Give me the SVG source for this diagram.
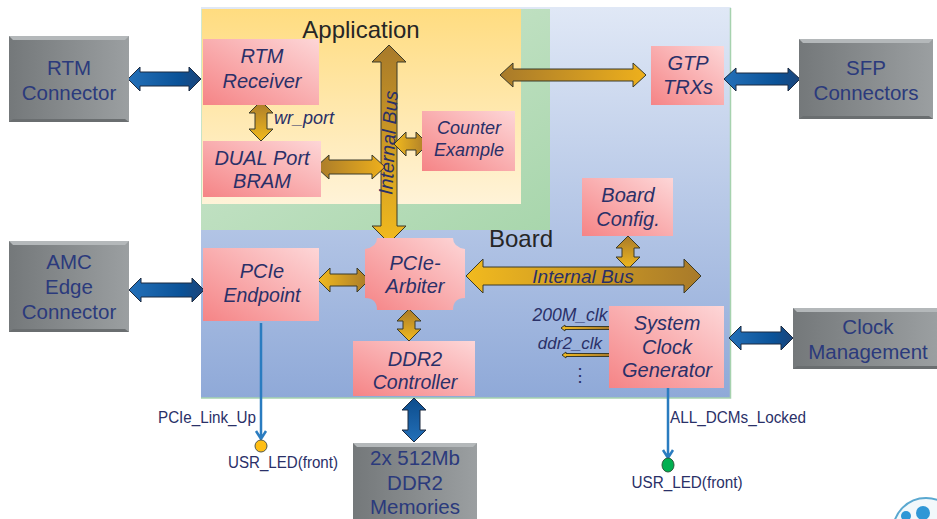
<svg xmlns="http://www.w3.org/2000/svg" width="937" height="519" viewBox="0 0 937 519">
<style>
text{font-family:"Liberation Sans",Arial,sans-serif;fill:#2a3068;text-anchor:middle}
.b{font-size:20px;font-style:italic}
.g{font-size:20.5px;fill:#2b3a7c}
.t{font-size:24px;fill:#262626}
.s{font-size:18px;font-style:italic}
.l{font-size:16px}
.blk{fill:url(#pink)}
.gh{fill:url(#goldH);stroke:#3a3a2a;stroke-width:1}
.gr{fill:url(#goldR);stroke:#3a3a2a;stroke-width:1}
.gv{fill:url(#goldV);stroke:#3a3a2a;stroke-width:1}
.bh{fill:url(#blueH);stroke:#1c2a40;stroke-width:1}
.bv{fill:url(#blueV);stroke:#1c2a40;stroke-width:1}
.sig{stroke:#2a7cc0;stroke-width:2.5;fill:none}
.top{fill:#b4b8ba}.bot{fill:#6a6e70}
.gb{fill:url(#gray)}
</style>
<defs>
<linearGradient id="pink" x1="0" y1="1" x2="1" y2="0"><stop offset="0" stop-color="#f58486"/><stop offset="1" stop-color="#fdd6d7"/></linearGradient>
<linearGradient id="blue" x1="0" y1="0" x2="0" y2="1"><stop offset="0" stop-color="#e0e8f6"/><stop offset="1" stop-color="#8fa9d8"/></linearGradient>
<linearGradient id="yellow" x1="0" y1="0" x2="0" y2="1"><stop offset="0" stop-color="#ffdc80"/><stop offset="1" stop-color="#fff3d8"/></linearGradient>
<linearGradient id="green" x1="0" y1="0" x2="1" y2="1"><stop offset="0" stop-color="#d2e8d2"/><stop offset="1" stop-color="#a8d6ac"/></linearGradient>
<linearGradient id="gray" x1="0" y1="0" x2="1" y2="0"><stop offset="0" stop-color="#74787a"/><stop offset="1" stop-color="#9b9fa1"/></linearGradient>
<linearGradient id="goldH" x1="0" y1="0" x2="1" y2="0"><stop offset="0" stop-color="#f2ba1e"/><stop offset="1" stop-color="#a87a2a"/></linearGradient>
<linearGradient id="goldR" x1="0" y1="0" x2="1" y2="0"><stop offset="0" stop-color="#a87a2a"/><stop offset="1" stop-color="#eeb01c"/></linearGradient>
<linearGradient id="goldV" x1="0" y1="1" x2="0" y2="0"><stop offset="0" stop-color="#f2ba1e"/><stop offset="1" stop-color="#a87a2a"/></linearGradient>
<linearGradient id="blueH" x1="0" y1="0" x2="1" y2="0"><stop offset="0" stop-color="#2470b8"/><stop offset="0.7" stop-color="#0a5298"/><stop offset="1" stop-color="#1c4478"/></linearGradient>
<linearGradient id="blueV" x1="0" y1="1" x2="0" y2="0"><stop offset="0" stop-color="#2470b8"/><stop offset="1" stop-color="#0c4c8c"/></linearGradient>
</defs>

<g id="board-area">
<rect x="201" y="7" width="530" height="391" fill="url(#blue)"/>
<path d="M730.500 8V398H201" fill="none" stroke="#a6d2ae" stroke-width="1.500"/>
<rect x="201" y="9" width="349" height="221" fill="url(#green)"/>
<rect x="202" y="9" width="319" height="195" fill="url(#yellow)"/>
<text class="t" x="361" y="38">Application</text>
<text class="t" x="521" y="247">Board</text>
</g>

<g id="connectors">
<polygon class="bh" points="128,79 140,67 140,72 189,72 189,67 201,79 189,91 189,86 140,86 140,91"/>
<polygon class="bh" points="129,290 141,278 141,283 192,283 192,278 204,290 192,302 192,297 141,297 141,302"/>
<polygon class="bh" points="724,79 736,68 736,73 788,73 788,68 800,79 788,91 788,85 736,85 736,91"/>
<polygon class="bh" points="729,338 741,326 741,332 781,332 781,326 793,338 781,350 781,344 741,344 741,350"/>
<polygon class="bv" points="414,398 426,410 420,410 420,430 426,430 414,442 402,430 408,430 408,410 402,410"/>
<polygon class="gv" points="389,45 406,62 397,62 397,226 406,226 389,243 372,226 381,226 381,62 372,62"/>
<polygon class="gv" points="261,101 273,113 267,113 267,129 273,129 261,141 249,129 255,129 255,113 249,113"/>
<polygon class="gv" points="628,236 640,248 634,248 634,257 640,257 628,269 616,257 622,257 622,248 616,248"/>
<polygon class="gv" points="409,309 421,321 415,321 415,329 421,329 409,341 397,329 403,329 403,321 397,321"/>
<polygon class="gr" points="316,167 329,155 329,160 372,160 372,155 385,167 372,179 372,174 329,174 329,179"/>
<polygon class="gh" points="394,144 406,132 406,138 416,138 416,132 428,144 416,156 416,150 406,150 406,156"/>
<polygon class="gr" points="500,75 513,63 513,69 633,69 633,63 646,75 633,87 633,81 513,81 513,87"/>
<polygon class="gh" points="318,280 330,268 330,274 357,274 357,268 369,280 357,292 357,286 330,286 330,292"/>
<polygon class="gh" points="466,276 483,259 483,267 684,267 684,259 701,276 684,293 684,285 483,285 483,293"/>
<polygon class="gh" points="561,328 565,325 565,326.500 610,326.500 610,329.500 565,329.500 565,331"/>
<polygon class="gh" points="562,355 566,352 566,353.500 610,353.500 610,356.500 566,356.500 566,358"/>
<path class="sig" d="M261 323V439M256 431L261 439L266 431"/>
<path class="sig" d="M668 388V458M663 450L668 458L673 450"/>
</g>

<g id="rtm-connector">
<rect class="gb" x="9" y="36" width="120" height="86"/>
<path class="top" d="M9 36H129L125 40H13Z"/><path class="bot" d="M9 122H129L125 119H13Z"/>
<text class="g" x="69" y="75">RTM</text><text class="g" x="69" y="100">Connector</text>
</g>
<g id="amc-connector">
<rect class="gb" x="9" y="241" width="120" height="91"/>
<path class="top" d="M9 241H129L125 245H13Z"/><path class="bot" d="M9 332H129L125 329H13Z"/>
<text class="g" x="69" y="269">AMC</text><text class="g" x="69" y="294">Edge</text><text class="g" x="69" y="319">Connector</text>
</g>
<g id="sfp-connectors">
<rect class="gb" x="799" y="39" width="134" height="80"/>
<path class="top" d="M799 39H933L929 43H803Z"/><path class="bot" d="M799 119H933L929 116H803Z"/>
<text class="g" x="866" y="75">SFP</text><text class="g" x="866" y="100">Connectors</text>
</g>
<g id="clock-management">
<rect class="gb" x="793" y="308" width="144" height="61"/>
<path class="top" d="M793 308H937V312H797Z"/><path class="bot" d="M793 369H937V366H797Z"/>
<text class="g" x="868" y="334">Clock</text><text class="g" x="868" y="359">Management</text>
</g>
<g id="ddr2-memories">
<rect class="gb" x="353" y="443" width="124" height="76"/>
<path class="top" d="M353 443H477L473 447H357Z"/>
<text class="g" x="415" y="465">2x 512Mb</text><text class="g" x="415" y="490">DDR2</text><text class="g" x="415" y="514">Memories</text>
</g>

<g id="rtm-receiver"><rect class="blk" x="203" y="39" width="116" height="66"/>
<text class="b" x="262" y="63">RTM</text><text class="b" x="262" y="88">Receiver</text></g>
<g id="dual-port-bram"><rect class="blk" x="203" y="141" width="118" height="56"/>
<text class="b" x="262" y="165">DUAL Port</text><text class="b" x="262" y="188">BRAM</text></g>
<g id="counter-example"><rect class="blk" x="422" y="111" width="93" height="60"/>
<text class="s" x="469" y="134">Counter</text><text class="s" x="469" y="156">Example</text></g>
<g id="gtp-trxs"><rect class="blk" x="651" y="46" width="73" height="59"/>
<text class="b" x="688" y="70">GTP</text><text class="b" x="688" y="94">TRXs</text></g>
<g id="board-config"><rect class="blk" x="582" y="178" width="91" height="58"/>
<text class="b" x="628" y="202">Board</text><text class="b" x="628" y="226">Config.</text></g>
<g id="system-clock-generator"><rect class="blk" x="609" y="306" width="115" height="82"/>
<text class="b" x="667" y="330">System</text><text class="b" x="667" y="354">Clock</text><text class="b" x="667" y="377">Generator</text></g>
<g id="pcie-endpoint"><rect class="blk" x="203" y="248" width="116" height="73"/>
<text class="b" x="262" y="278">PCIe</text><text class="b" x="262" y="302" style="font-size:19.5px">Endpoint</text></g>
<g id="pcie-arbiter"><path class="blk" d="M377 238H453Q453 247 465 249V298Q453 298 453 310H377Q377 298 365 298V249Q377 247 377 238Z"/>
<text class="b" x="415" y="270">PCIe-</text><text class="b" x="415" y="293">Arbiter</text></g>
<g id="ddr2-controller"><rect class="blk" x="353" y="341" width="122" height="55"/>
<text class="b" x="415" y="366">DDR2</text><text class="b" x="415" y="389" style="font-size:19.5px">Controller</text></g>

<g id="labels">
<text class="s" x="304" y="124">wr_port</text>
<text class="s" style="font-size:19.500px" transform="translate(395,143) rotate(-87)">Internal Bus</text>
<text class="s" style="font-size:19px" x="583" y="283">Internal Bus</text>
<text class="s" style="font-size:17.500px" x="570" y="321">200M_clk</text>
<text class="s" style="font-size:17px" x="570" y="349">ddr2_clk</text>
<text class="l" style="font-size:18px" x="580" y="381">⋮</text>
<text class="l" x="207" y="423" textLength="98" lengthAdjust="spacingAndGlyphs">PCIe_Link_Up</text>
<text class="l" x="283" y="468" textLength="110" lengthAdjust="spacingAndGlyphs">USR_LED(front)</text>
<text class="l" x="738" y="423" textLength="136" lengthAdjust="spacingAndGlyphs">ALL_DCMs_Locked</text>
<text class="l" x="687" y="488" textLength="111" lengthAdjust="spacingAndGlyphs">USR_LED(front)</text>
</g>

<g id="led-link"><circle cx="261" cy="446" r="6" fill="#ffbe14" stroke="#54584a" stroke-width="1"/></g>
<g id="led-locked"><ellipse cx="668" cy="465" rx="6" ry="7" fill="#00b050" stroke="#2a5a3a" stroke-width="1"/></g>

<g id="logo">
<circle cx="926" cy="531" r="33" fill="#f2f8fb" stroke="#5aa8d0" stroke-width="2"/>
<circle cx="923" cy="513" r="7" fill="#2f97d6"/>
<circle cx="906" cy="516" r="5" fill="#2f97d6"/>
</g>
</svg>
